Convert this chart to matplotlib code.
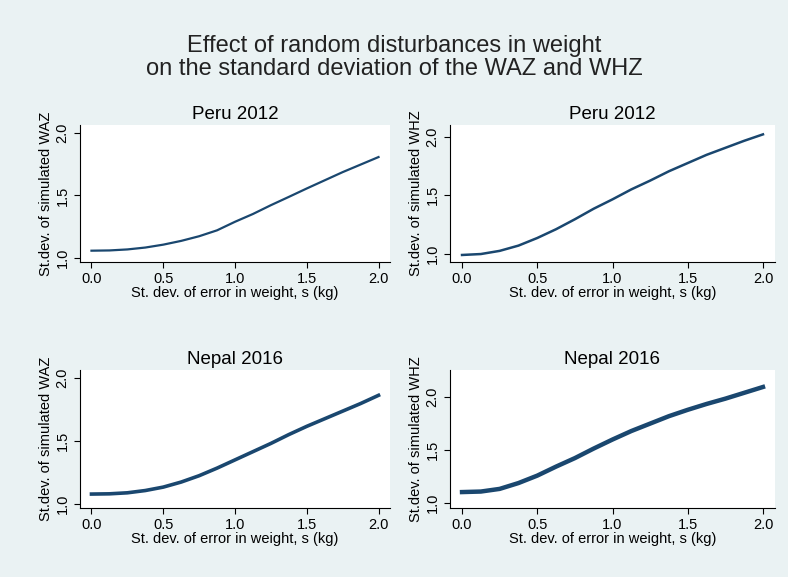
import matplotlib.pyplot as plt

plt.rcParams['font.family'] = ['Liberation Sans', 'DejaVu Sans']

s = [0.0, 0.125, 0.25, 0.375, 0.5, 0.625, 0.75, 0.875, 1.0, 1.125, 1.25,
     1.375, 1.5, 1.625, 1.75, 1.875, 2.0]
peru_waz = [1.060, 1.062, 1.070, 1.085, 1.108, 1.138, 1.175, 1.222, 1.290,
            1.352, 1.422, 1.488, 1.555, 1.620, 1.685, 1.745, 1.805]
peru_whz = [0.990, 0.998, 1.025, 1.070, 1.135, 1.210, 1.295, 1.385, 1.465,
            1.550, 1.625, 1.705, 1.775, 1.845, 1.905, 1.965, 2.020]
nepal_waz = [1.080, 1.082, 1.090, 1.108, 1.135, 1.175, 1.225, 1.285, 1.350,
             1.415, 1.480, 1.550, 1.615, 1.675, 1.735, 1.795, 1.860]
nepal_whz = [1.100, 1.105, 1.130, 1.185, 1.255, 1.340, 1.420, 1.510, 1.595,
             1.675, 1.745, 1.815, 1.875, 1.930, 1.980, 2.035, 2.090]

panels = [
    ("Peru 2012", "St.dev. of simulated WAZ", peru_waz, (0.97, 2.06), 1.6,
     [80, 125, 390, 262]),
    ("Peru 2012", "St.dev. of simulated WHZ", peru_whz, (0.93, 2.1), 1.8,
     [450, 125, 775, 262]),
    ("Nepal 2016", "St.dev. of simulated WAZ", nepal_waz, (0.97, 2.06), 2.6,
     [80, 370, 390, 508]),
    ("Nepal 2016", "St.dev. of simulated WHZ", nepal_whz, (0.95, 2.25), 3.2,
     [450, 370, 775, 508]),
]

W, H = 788, 577
fig = plt.figure(figsize=(W / 100, H / 100), dpi=100)
fig.patch.set_facecolor("#eaf2f3")
fig.text(0.5, 0.9, "Effect of random disturbances in weight\non the standard deviation of the WAZ and WHZ",
         ha="center", va="center", fontsize=17, color="#222222", linespacing=1.05)

navy = "#1a476f"
for title, ylab, vals, ylim, lw, (x0, y0, x1, y1) in panels:
    ax = fig.add_axes([x0 / W, 1 - y1 / H, (x1 - x0) / W, (y1 - y0) / H])
    ax.plot(s, vals, color=navy, lw=lw)
    ax.set_xlim(-0.08, 2.08)
    ax.set_ylim(*ylim)
    ax.set_xticks([0, 0.5, 1, 1.5, 2])
    ax.set_xticklabels(["0.0", "0.5", "1.0", "1.5", "2.0"])
    ax.set_yticks([1.0, 1.5, 2.0])
    ax.set_yticklabels(["1.0", "1.5", "2.0"], rotation=90, va="center")
    ax.set_title(title, fontsize=13.5, pad=4)
    ax.set_ylabel(ylab, fontsize=10.5, labelpad=2)
    ax.set_xlabel("St. dev. of error in weight, s (kg)", fontsize=10.5, labelpad=0)
    ax.tick_params(labelsize=10.5, length=4)
    for sp in ["top", "right"]:
        ax.spines[sp].set_visible(False)

fig.savefig("out.png", dpi=100, facecolor=fig.get_facecolor())
